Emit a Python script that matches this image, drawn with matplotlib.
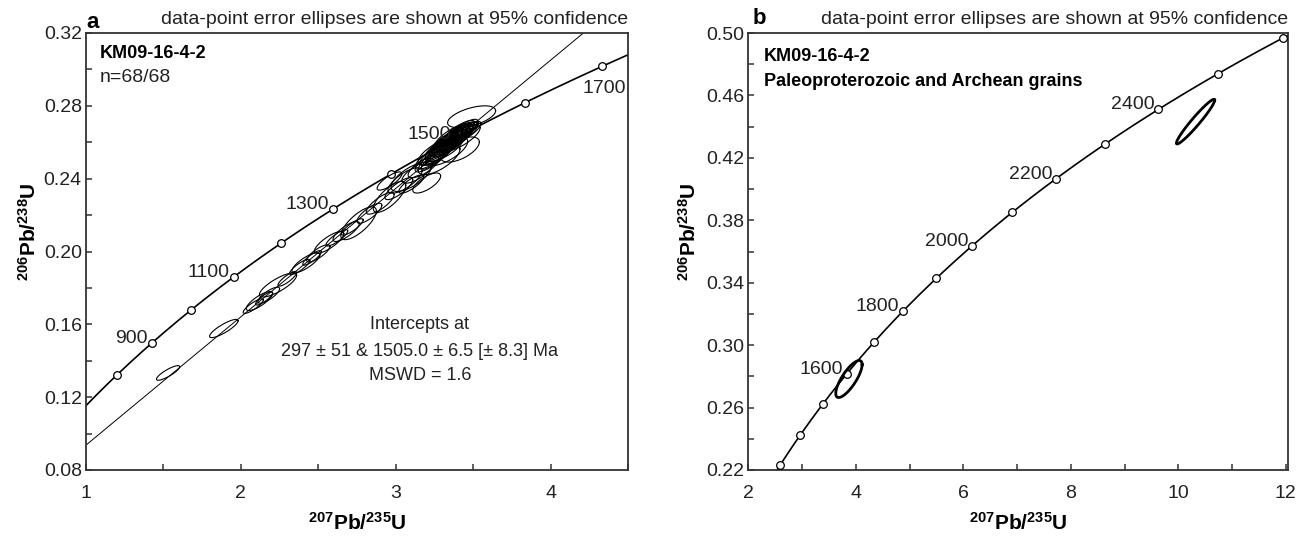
import numpy as np
import matplotlib
matplotlib.use('Agg')
import matplotlib.pyplot as plt
from matplotlib.ticker import MultipleLocator, FormatStrFormatter

plt.rcParams['font.family'] = ['Liberation Sans', 'DejaVu Sans']
plt.rcParams['mathtext.fontset'] = 'custom'
plt.rcParams['mathtext.rm'] = 'Liberation Sans'
plt.rcParams['mathtext.bf'] = 'Liberation Sans:bold'

# decay constants (per year)
L238 = 1.55125e-10
L235 = 9.8485e-10

# concordia age marks (Ma)
ages_a = [800, 900, 1000, 1100, 1200, 1300, 1400, 1500, 1600, 1700]
labels_a = [900, 1100, 1300, 1500]
ages_b = [1300, 1400, 1500, 1600, 1700, 1800, 1900, 2000, 2100, 2200, 2300, 2400, 2500, 2600]
labels_b = [1600, 1800, 2000, 2200, 2400]

# discordia intercepts (Ma)
intercept_lo = 297
intercept_hi = 1505.0

# axis ticks
yticks_a = [0.08, 0.12, 0.16, 0.20, 0.24, 0.28, 0.32]
yticks_b = [0.22, 0.26, 0.30, 0.34, 0.38, 0.42, 0.46, 0.50]

# panel a: data-point error ellipses (centre, 95% half-extent in x and y, error correlation)
ell_a_x = [1.53, 1.89, 2.08, 2.12, 2.15, 2.18, 2.24, 2.30, 2.38, 2.42,
           2.46, 2.50, 2.57, 2.62, 2.68, 2.72, 2.76, 2.83, 2.90, 2.96,
           2.96, 3.02, 3.06, 3.10, 3.10, 3.14, 3.18, 3.20,
           3.22, 3.24, 3.25, 3.26, 3.27, 3.28, 3.29, 3.30, 3.30, 3.31,
           3.32, 3.32, 3.33, 3.34, 3.34, 3.35, 3.35, 3.36, 3.36, 3.37,
           3.37, 3.38, 3.38, 3.39, 3.39, 3.40, 3.40, 3.41, 3.41, 3.42,
           3.42, 3.43, 3.44, 3.44, 3.45, 3.46, 3.33, 3.28, 3.415, 3.49]
ell_a_y = [0.1333, 0.1577, 0.1700, 0.1728, 0.1742, 0.1760, 0.1816, 0.1850, 0.1915, 0.1938,
           0.1965, 0.1990, 0.2050, 0.2075, 0.2110, 0.2135, 0.2155, 0.2210, 0.2265, 0.2300,
           0.2387, 0.2345, 0.2390, 0.2410, 0.2370, 0.2435, 0.2465, 0.2376,
           0.2495, 0.2520, 0.2505, 0.2535, 0.2550, 0.2530, 0.2560, 0.2575, 0.2545, 0.2585,
           0.2565, 0.2595, 0.2605, 0.2580, 0.2615, 0.2600, 0.2625, 0.2610, 0.2635, 0.2595,
           0.2620, 0.2640, 0.2610, 0.2630, 0.2650, 0.2620, 0.2645, 0.2635, 0.2660, 0.2645,
           0.2625, 0.2655, 0.2640, 0.2670, 0.2655, 0.2665, 0.2550, 0.2505, 0.2560, 0.2740]
ell_a_sx = [0.075, 0.092, 0.065, 0.085, 0.055, 0.070, 0.120, 0.060, 0.065, 0.090,
            0.060, 0.075, 0.095, 0.070, 0.085, 0.070, 0.115, 0.080, 0.090, 0.105,
            0.080, 0.090, 0.110, 0.130, 0.080, 0.100, 0.100, 0.090,
            0.095, 0.115, 0.085, 0.105, 0.125, 0.090, 0.100, 0.110, 0.080, 0.095,
            0.115, 0.085, 0.105, 0.100, 0.090, 0.120, 0.080, 0.095, 0.105, 0.085,
            0.110, 0.090, 0.100, 0.115, 0.085, 0.095, 0.105, 0.090, 0.100, 0.080,
            0.125, 0.095, 0.085, 0.090, 0.100, 0.075, 0.135, 0.135, 0.125, 0.155]
ell_a_sy = [0.0040, 0.0050, 0.0040, 0.0052, 0.0036, 0.0044, 0.0066, 0.0040, 0.0042, 0.0055,
            0.0040, 0.0047, 0.0060, 0.0045, 0.0055, 0.0045, 0.0090, 0.0055, 0.0060, 0.0085,
            0.0050, 0.0060, 0.0070, 0.0080, 0.0050, 0.0060, 0.0060, 0.0055,
            0.0058, 0.0068, 0.0053, 0.0063, 0.0073, 0.0056, 0.0060, 0.0066, 0.0050, 0.0058,
            0.0068, 0.0053, 0.0063, 0.0060, 0.0056, 0.0070, 0.0050, 0.0058, 0.0063, 0.0053,
            0.0066, 0.0056, 0.0060, 0.0068, 0.0053, 0.0058, 0.0063, 0.0056, 0.0060, 0.0050,
            0.0073, 0.0058, 0.0053, 0.0056, 0.0060, 0.0048, 0.0078, 0.0083, 0.0069, 0.0060]
ell_a_rho = [0.85, 0.85, 0.85, 0.80, 0.85, 0.80, 0.80, 0.85, 0.85, 0.80,
             0.85, 0.80, 0.80, 0.85, 0.80, 0.85, 0.75, 0.80, 0.80, 0.75,
             0.80, 0.80, 0.75, 0.70, 0.80, 0.75, 0.75, 0.70,
             0.80, 0.80, 0.85, 0.80, 0.75, 0.85, 0.80, 0.80, 0.85, 0.80,
             0.75, 0.85, 0.80, 0.80, 0.85, 0.75, 0.85, 0.80, 0.80, 0.85,
             0.80, 0.85, 0.80, 0.75, 0.85, 0.80, 0.80, 0.85, 0.80, 0.85,
             0.75, 0.80, 0.85, 0.80, 0.80, 0.85, 0.70, 0.70, 0.60, 0.55]

# panel b: Paleoproterozoic and Archean grains
ell_b_x = [3.872, 10.32]
ell_b_y = [0.2783, 0.4432]
ell_b_sx = [0.245, 0.356]
ell_b_sy = [0.01185, 0.01432]
ell_b_rho = [0.78, 0.962]


def concordia(t_ma):
    t = np.asarray(t_ma, dtype=float) * 1e6
    return np.exp(L235 * t) - 1, np.exp(L238 * t) - 1


def draw_ellipse(ax, x, y, sx, sy, rho, lw):
    th = np.linspace(0, 2 * np.pi, 120)
    ex = x + sx * np.cos(th)
    ey = y + sy * (rho * np.cos(th) + np.sqrt(1 - rho ** 2) * np.sin(th))
    ax.plot(ex, ey, color='black', lw=lw, zorder=6)


def style_axes(ax):
    for s in ax.spines.values():
        s.set_color('#333333')
        s.set_linewidth(1.3)
    ax.tick_params(which='both', direction='in', length=4, width=1.1,
                   colors='#333333', labelcolor='#222222', labelsize=14,
                   top=False, right=False)
    ax.tick_params(axis='x', which='both', pad=11)
    ax.tick_params(axis='y', which='both', pad=3)


def draw_concordia(ax, ages, labels, t_max, below=()):
    tt = np.linspace(1, t_max, 600)
    cx, cy = concordia(tt)
    ax.plot(cx, cy, color='black', lw=1.2, zorder=2)
    mx, my = concordia(ages)
    ax.plot(mx, my, 'o', ms=5.5, mfc='white', mec='black', mew=0.9, zorder=5)
    for age in labels:
        px, py = concordia(age)
        ax.annotate(str(age), (px, py), xytext=(-3, 0), textcoords='offset points',
                    ha='right', va='baseline', fontsize=14, color='#222222', zorder=7)
    for age in below:
        px, py = concordia(age)
        ax.annotate(str(age), (px, py), xytext=(1.5, -10), textcoords='offset points',
                    ha='center', va='top', fontsize=14, color='#222222', zorder=7)


W, H = 1299, 541
fig = plt.figure(figsize=(W / 100, H / 100), dpi=100)
ax_a = fig.add_axes([86 / W, 1 - 470 / H, 542 / W, 437 / H])
ax_b = fig.add_axes([748.3 / W, 1 - 470 / H, 539.7 / W, 437 / H])

xlab = r'$\mathbf{{}^{207}Pb/{}^{235}U}$'
ylab = r'$\mathbf{{}^{206}Pb/{}^{238}U}$'

# ---- panel a ----
ax = ax_a
draw_concordia(ax, ages_a, labels_a, 2000, below=[1700])
x1, y1 = concordia(intercept_lo)
x2, y2 = concordia(intercept_hi)
ax.axline((x1, y1), (x2, y2), color='black', lw=0.7, zorder=2)
for i in range(len(ell_a_x)):
    draw_ellipse(ax, ell_a_x[i], ell_a_y[i], ell_a_sx[i], ell_a_sy[i], ell_a_rho[i], 0.8)
ax.set_xlim(1, 4.5)
ax.set_ylim(0.08, 0.32)
ax.xaxis.set_major_locator(MultipleLocator(1))
ax.xaxis.set_minor_locator(MultipleLocator(0.5))
ax.set_yticks(yticks_a)
ax.yaxis.set_minor_locator(MultipleLocator(0.02))
ax.xaxis.set_major_formatter(FormatStrFormatter('%d'))
ax.yaxis.set_major_formatter(FormatStrFormatter('%.2f'))
style_axes(ax)
ax.set_xlabel(xlab, fontsize=15)
ax.set_ylabel(ylab, fontsize=15)
ax.xaxis.set_label_coords(0.5, -0.095)
ax.yaxis.set_label_coords(-0.085, 0.545)
ax.text(0.026, 0.952, 'KM09-16-4-2', transform=ax.transAxes, fontsize=13,
        fontweight='bold', va='center', ha='left')
ax.text(0.026, 0.899, 'n=68/68', transform=ax.transAxes, fontsize=14,
        va='center', ha='left', color='#222222')
ax.text(0.616, 0.332, 'Intercepts at', transform=ax.transAxes, fontsize=13,
        ha='center', va='center', color='#222222')
ax.text(0.616, 0.272, '297 ± 51 & 1505.0 ± 6.5 [± 8.3] Ma', transform=ax.transAxes,
        fontsize=13, ha='center', va='center', color='#222222')
ax.text(0.616, 0.217, 'MSWD = 1.6', transform=ax.transAxes, fontsize=13,
        ha='center', va='center', color='#222222')

# ---- panel b ----
ax = ax_b
draw_concordia(ax, ages_b, labels_b, 3000)
for i in range(len(ell_b_x)):
    draw_ellipse(ax, ell_b_x[i], ell_b_y[i], ell_b_sx[i], ell_b_sy[i], ell_b_rho[i], 2.0)
ax.set_xlim(2, 12.04)
ax.set_ylim(0.22, 0.50)
ax.xaxis.set_major_locator(MultipleLocator(2))
ax.xaxis.set_minor_locator(MultipleLocator(1))
ax.set_yticks(yticks_b)
ax.yaxis.set_minor_locator(MultipleLocator(0.02))
ax.xaxis.set_major_formatter(FormatStrFormatter('%d'))
ax.yaxis.set_major_formatter(FormatStrFormatter('%.2f'))
style_axes(ax)
ax.set_xlabel(xlab, fontsize=15)
ax.set_ylabel(ylab, fontsize=15)
ax.xaxis.set_label_coords(0.5, -0.095)
ax.yaxis.set_label_coords(-0.09, 0.545)
ax.text(0.029, 0.947, 'KM09-16-4-2', transform=ax.transAxes, fontsize=13,
        fontweight='bold', va='center', ha='left')
ax.text(0.029, 0.888, 'Paleoproterozoic and Archean grains', transform=ax.transAxes,
        fontsize=13, fontweight='bold', va='center', ha='left')

# panel letters and headers
note = 'data-point error ellipses are shown at 95% confidence'
fig.text(86 / W, 1 - 22 / H, 'a', fontsize=16, fontweight='bold', va='center', ha='left')
fig.text(628 / W, 1 - 20 / H, note, fontsize=14, va='center', ha='right', color='#222222')
fig.text(753 / W, 1 - 19 / H, 'b', fontsize=16, fontweight='bold', va='center', ha='left')
fig.text(1288 / W, 1 - 20 / H, note, fontsize=14, va='center', ha='right', color='#222222')

fig.savefig('out.png', dpi=100)
